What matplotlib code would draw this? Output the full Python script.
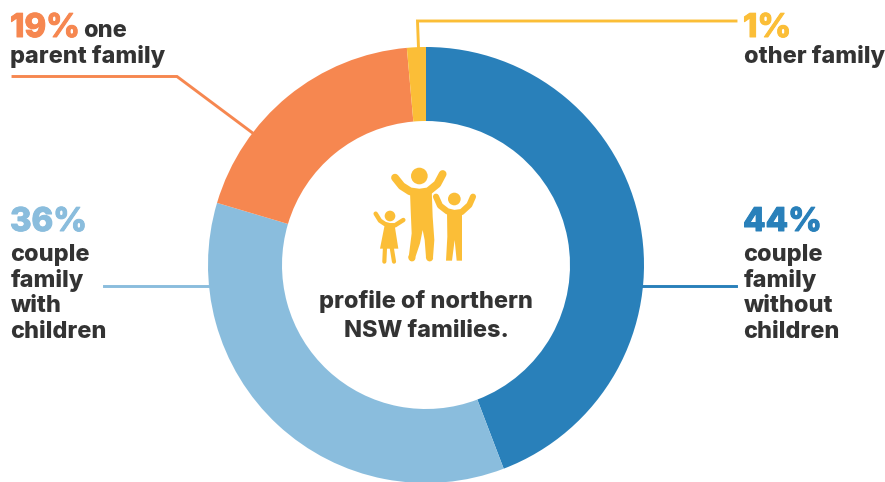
import matplotlib
matplotlib.use("Agg")
import matplotlib.pyplot as plt
import matplotlib.patheffects as pe
from matplotlib.patches import Circle, Polygon

# data
categories = ['couple family without children', 'couple family with children', 'one parent family', 'other family']
values = [44.2, 35.4, 19.0, 1.4]
pct_labels = ['44%', '36%', '19%', '1%']
colors = ['#2980BA', '#8ABDDD', '#F68750', '#FBBE37']
dark = '#333333'

W, H = 885, 482
plt.rcParams['font.family'] = ['Inter', 'DejaVu Sans']

fig = plt.figure(figsize=(W / 100, H / 100), dpi=100)
ax = fig.add_axes([0, 0, 1, 1])


# y from the top of the picture, in pixels
def py(y):
    return H - y


def zp(x, y):
    return (360 + x / 3, py(150 + y / 3))


ax.pie(values, colors=colors, startangle=90, counterclock=False,
       center=(426, py(265)), radius=218,
       wedgeprops=dict(width=74, linewidth=0), frame=True)
ax.set_xlim(0, W)
ax.set_ylim(0, H)
ax.set_aspect('equal')
ax.axis('off')

# leader lines
lw = 2.1
ax.plot([13, 177, 254], [py(76.5), py(76.5), py(134)], color=colors[2], lw=lw, solid_joinstyle='miter')
ax.plot([736, 417.5, 418.5], [py(21), py(21), py(48)], color=colors[3], lw=lw, solid_joinstyle='miter')
ax.plot([104, 210], [py(286), py(286)], color=colors[1], lw=lw)
ax.plot([642, 736], [py(286), py(286)], color=colors[0], lw=lw)


# big coloured percentage, thickened a little
def pct(x, y, s, c):
    ax.text(x, py(y), s, color=c, fontsize=23.6, fontweight=800,
            path_effects=[pe.withStroke(linewidth=0.7, foreground=c)])


# labels
small = 16.9
wt = 800
pct(10, 37, pct_labels[2], colors[2])
ax.text(83, py(37), 'one', color=dark, fontsize=small, fontweight=wt)
ax.text(10.5, py(63), 'parent family', color=dark, fontsize=small, fontweight=wt)

pct(743, 37, pct_labels[3], colors[3])
ax.text(743.5, py(63), 'other family', color=dark, fontsize=small, fontweight=wt)

pct(10, 231, pct_labels[1], colors[1])
for y, s in zip([261, 287, 312, 338], ['couple', 'family', 'with', 'children']):
    ax.text(10.5, py(y), s, color=dark, fontsize=small, fontweight=wt)

pct(743, 231, pct_labels[0], colors[0])
for y, s in zip([261, 287, 312, 338], ['couple', 'family', 'without', 'children']):
    ax.text(743.5, py(y), s, color=dark, fontsize=small, fontweight=wt)

ax.text(426, py(308), 'profile of northern', color=dark, fontsize=small, fontweight=wt, ha='center')
ax.text(426, py(337), 'NSW families.', color=dark, fontsize=small, fontweight=wt, ha='center')

# family icon
ic = colors[3]
for x, y, r in [(178, 78, 25), (283, 147, 19), (90, 198, 16)]:
    ax.add_patch(Circle(zp(x, y), r / 3, color=ic, lw=0))

adult_arm = [(105, 83), (125, 108), (150, 124), (178, 128), (205, 124), (232, 102), (248, 72)]
ax.plot(*zip(*[zp(*p) for p in adult_arm]), color=ic, lw=5.6, solid_capstyle='round')
adult = [(150, 125), (215, 118), (218, 200), (223, 270), (219, 322), (198, 322), (194, 270), (188, 240),
         (180, 280), (165, 325), (146, 322), (155, 250), (152, 180)]
ax.add_patch(Polygon([zp(*p) for p in adult], color=ic, lw=0))
for a, b in [((155, 322), (156, 324)), ((208, 322), (209, 324))]:
    ax.plot(*zip(zp(*a), zp(*b)), color=ic, lw=5, solid_capstyle='round')

kid_arm = [(228, 140), (240, 167), (262, 184), (283, 189), (305, 186), (328, 165), (339, 140)]
ax.plot(*zip(*[zp(*p) for p in kid_arm]), color=ic, lw=4.4, solid_capstyle='round')
kid = [(261, 184), (306, 180), (306, 260), (306, 332), (290, 332), (284, 270), (276, 332), (258, 332), (262, 260)]
ax.add_patch(Polygon([zp(*p) for p in kid], color=ic, lw=0))

girl_arm = [(47, 191), (60, 212), (75, 222), (90, 226), (105, 226), (130, 210)]
ax.plot(*zip(*[zp(*p) for p in girl_arm]), color=ic, lw=3.2, solid_capstyle='round')
dress = [(75, 220), (103, 220), (115, 296), (60, 296)]
ax.add_patch(Polygon([zp(*p) for p in dress], color=ic, lw=0))
for a, b in [((75, 292), (73, 335)), ((95, 292), (102, 335))]:
    ax.plot(*zip(zp(*a), zp(*b)), color=ic, lw=3, solid_capstyle='round')

fig.savefig('out.png', dpi=100)
